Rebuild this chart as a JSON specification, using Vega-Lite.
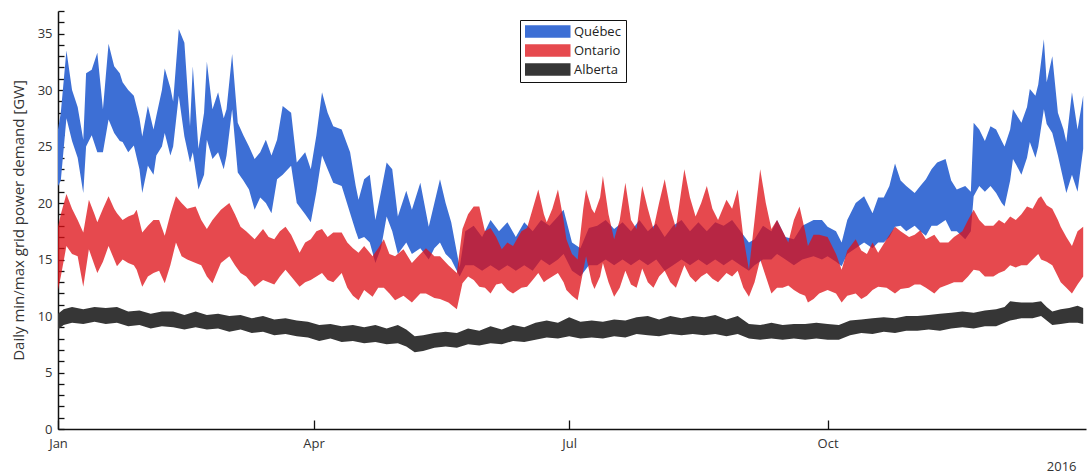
{
  "$schema": "https://vega.github.io/schema/vega-lite/v6.json",
  "width": 1028,
  "height": 418,
  "autosize": "none",
  "padding": {"left": 58, "top": 11, "right": 2, "bottom": 46},
  "background": "white",
  "config": {
    "view": {"stroke": null},
    "font": "Open Sans",
    "axis": {
      "grid": false,
      "domainColor": "#111111",
      "domainWidth": 1.5,
      "tickColor": "#111111",
      "tickWidth": 1.3,
      "labelFont": "Open Sans",
      "labelFontSize": 13,
      "labelColor": "#333333",
      "titleFont": "Open Sans",
      "titleFontSize": 15,
      "titleFontWeight": "normal",
      "titleColor": "#333333"
    }
  },
  "datasets": {
    "que": [
      {"d":"2016-01-01","lo":21.5,"hi":26.5},{"d":"2016-01-02","lo":22,"hi":28},{"d":"2016-01-04","lo":27.5,"hi":33.5},
      {"d":"2016-01-06","lo":25.5,"hi":30},{"d":"2016-01-08","lo":24,"hi":28.5},{"d":"2016-01-10","lo":20.9,"hi":25.6},
      {"d":"2016-01-11","lo":25,"hi":31.5},{"d":"2016-01-13","lo":26,"hi":31.8},{"d":"2016-01-15","lo":24.5,"hi":33.3},
      {"d":"2016-01-17","lo":24.5,"hi":28.3},{"d":"2016-01-19","lo":27.4,"hi":34.1},{"d":"2016-01-21","lo":26.2,"hi":32.1},
      {"d":"2016-01-23","lo":25.5,"hi":31.5},{"d":"2016-01-24","lo":25.4,"hi":30.7},{"d":"2016-01-26","lo":24.5,"hi":30},
      {"d":"2016-01-28","lo":25.1,"hi":29.5},{"d":"2016-01-30","lo":23,"hi":27.5},{"d":"2016-01-31","lo":20.9,"hi":25.9},
      {"d":"2016-02-02","lo":23.3,"hi":28.6},{"d":"2016-02-04","lo":22.5,"hi":26.5},{"d":"2016-02-05","lo":24.2,"hi":27.7},
      {"d":"2016-02-07","lo":25,"hi":30},{"d":"2016-02-08","lo":26.2,"hi":31.9},{"d":"2016-02-10","lo":24.2,"hi":30.2},
      {"d":"2016-02-11","lo":25,"hi":29},{"d":"2016-02-13","lo":29.5,"hi":35.4},{"d":"2016-02-15","lo":25.9,"hi":34.2},
      {"d":"2016-02-17","lo":23.6,"hi":26.8},{"d":"2016-02-18","lo":24.5,"hi":32.1},{"d":"2016-02-20","lo":21.2,"hi":24.8},
      {"d":"2016-02-22","lo":22.5,"hi":28},{"d":"2016-02-23","lo":25.6,"hi":32.5},{"d":"2016-02-25","lo":23.9,"hi":28.3},
      {"d":"2016-02-27","lo":24.5,"hi":29.8},{"d":"2016-02-29","lo":23,"hi":27.5},{"d":"2016-03-01","lo":24.2,"hi":28.3},
      {"d":"2016-03-03","lo":28.3,"hi":33.2},{"d":"2016-03-05","lo":22.7,"hi":27.1},{"d":"2016-03-07","lo":22,"hi":26},
      {"d":"2016-03-09","lo":21.2,"hi":25},{"d":"2016-03-11","lo":19.4,"hi":23.9},{"d":"2016-03-13","lo":20.5,"hi":24.5},
      {"d":"2016-03-15","lo":20,"hi":25.6},{"d":"2016-03-17","lo":19.1,"hi":24.2},{"d":"2016-03-19","lo":22.1,"hi":25.6},
      {"d":"2016-03-21","lo":22.5,"hi":28.6},{"d":"2016-03-24","lo":23.3,"hi":28},{"d":"2016-03-26","lo":20,"hi":23.6},
      {"d":"2016-03-29","lo":19,"hi":24.5},{"d":"2016-03-31","lo":18.3,"hi":23},{"d":"2016-04-02","lo":21,"hi":26},
      {"d":"2016-04-04","lo":24.2,"hi":29.8},{"d":"2016-04-06","lo":23,"hi":28},{"d":"2016-04-08","lo":21.8,"hi":26.8},
      {"d":"2016-04-11","lo":21.5,"hi":26.5},{"d":"2016-04-14","lo":19.1,"hi":24.5},{"d":"2016-04-16","lo":17.5,"hi":21.5},
      {"d":"2016-04-17","lo":16.8,"hi":20.3},{"d":"2016-04-19","lo":17,"hi":22.1},{"d":"2016-04-21","lo":16.5,"hi":22.5},
      {"d":"2016-04-23","lo":14.7,"hi":18.5},{"d":"2016-04-25","lo":16,"hi":21},{"d":"2016-04-27","lo":18.8,"hi":23.6},
      {"d":"2016-04-29","lo":17.5,"hi":23},{"d":"2016-05-01","lo":15.5,"hi":18.8},{"d":"2016-05-04","lo":16.5,"hi":21.1},
      {"d":"2016-05-06","lo":15.5,"hi":19.4},{"d":"2016-05-09","lo":16,"hi":21.8},{"d":"2016-05-12","lo":15,"hi":17.9},
      {"d":"2016-05-14","lo":16,"hi":20},{"d":"2016-05-16","lo":16.5,"hi":22.1},{"d":"2016-05-18","lo":15.5,"hi":20},
      {"d":"2016-05-20","lo":15,"hi":18.3},{"d":"2016-05-23","lo":13.5,"hi":14.3},{"d":"2016-05-25","lo":14.5,"hi":17.5},
      {"d":"2016-05-28","lo":14.5,"hi":18},{"d":"2016-05-31","lo":14,"hi":17},{"d":"2016-06-03","lo":14.5,"hi":18.5},
      {"d":"2016-06-06","lo":14,"hi":17.5},{"d":"2016-06-09","lo":14.5,"hi":18.3},{"d":"2016-06-12","lo":14,"hi":17},
      {"d":"2016-06-15","lo":14.5,"hi":18.3},{"d":"2016-06-18","lo":14,"hi":17.5},{"d":"2016-06-21","lo":15,"hi":18.5},
      {"d":"2016-06-24","lo":14.5,"hi":18},{"d":"2016-06-27","lo":15,"hi":18.8},{"d":"2016-06-29","lo":15.5,"hi":19.4},
      {"d":"2016-07-02","lo":14,"hi":16.5},{"d":"2016-07-05","lo":13.5,"hi":16},{"d":"2016-07-08","lo":14.5,"hi":17.8},
      {"d":"2016-07-11","lo":14.5,"hi":18},{"d":"2016-07-14","lo":15,"hi":18.5},{"d":"2016-07-17","lo":14.5,"hi":17.7},
      {"d":"2016-07-20","lo":15,"hi":18.3},{"d":"2016-07-23","lo":14.5,"hi":17.5},{"d":"2016-07-26","lo":15,"hi":18.5},
      {"d":"2016-07-29","lo":14.5,"hi":17.5},{"d":"2016-08-01","lo":15,"hi":18.2},{"d":"2016-08-04","lo":14,"hi":17},
      {"d":"2016-08-07","lo":14.5,"hi":18},{"d":"2016-08-10","lo":15,"hi":18.5},{"d":"2016-08-13","lo":14.5,"hi":17.5},
      {"d":"2016-08-16","lo":15,"hi":18.3},{"d":"2016-08-19","lo":14.5,"hi":17.5},{"d":"2016-08-22","lo":15,"hi":18.3},
      {"d":"2016-08-25","lo":14.5,"hi":18},{"d":"2016-08-28","lo":15,"hi":18.5},{"d":"2016-08-31","lo":14.5,"hi":17.5},
      {"d":"2016-09-03","lo":14,"hi":16.5},{"d":"2016-09-05","lo":14.5,"hi":16.8},{"d":"2016-09-08","lo":15,"hi":18},
      {"d":"2016-09-11","lo":15,"hi":17.5},{"d":"2016-09-13","lo":15.5,"hi":18.5},{"d":"2016-09-16","lo":15,"hi":17},
      {"d":"2016-09-19","lo":14.5,"hi":16.8},{"d":"2016-09-22","lo":15,"hi":18},{"d":"2016-09-26","lo":15.3,"hi":18.5},
      {"d":"2016-09-29","lo":15,"hi":18.5},{"d":"2016-10-01","lo":15.3,"hi":17.9},{"d":"2016-10-04","lo":14.8,"hi":17.5},
      {"d":"2016-10-06","lo":14.4,"hi":16.5},{"d":"2016-10-08","lo":15.5,"hi":18.5},{"d":"2016-10-11","lo":16,"hi":20},
      {"d":"2016-10-14","lo":16.5,"hi":20.6},{"d":"2016-10-17","lo":16,"hi":19.1},{"d":"2016-10-19","lo":16.5,"hi":20.5},
      {"d":"2016-10-21","lo":16.5,"hi":20.5},{"d":"2016-10-23","lo":17,"hi":21.5},{"d":"2016-10-25","lo":17.9,"hi":23.5},
      {"d":"2016-10-27","lo":18,"hi":22},{"d":"2016-10-29","lo":17.5,"hi":21.5},{"d":"2016-11-01","lo":18,"hi":20.9},
      {"d":"2016-11-03","lo":17.5,"hi":21.5},{"d":"2016-11-05","lo":17.1,"hi":22.1},{"d":"2016-11-07","lo":18,"hi":23},
      {"d":"2016-11-09","lo":18,"hi":23.6},{"d":"2016-11-12","lo":18.5,"hi":23.9},{"d":"2016-11-14","lo":17.5,"hi":22},
      {"d":"2016-11-16","lo":17.5,"hi":21.2},{"d":"2016-11-19","lo":16.8,"hi":21.5},{"d":"2016-11-21","lo":17.5,"hi":21},
      {"d":"2016-11-22","lo":20.6,"hi":27.1},{"d":"2016-11-24","lo":21.5,"hi":26.5},{"d":"2016-11-26","lo":21,"hi":25.5},
      {"d":"2016-11-28","lo":21.5,"hi":26.8},{"d":"2016-11-30","lo":20.9,"hi":26.5},{"d":"2016-12-02","lo":20,"hi":25.5},
      {"d":"2016-12-03","lo":19.7,"hi":25},{"d":"2016-12-05","lo":22,"hi":26.5},{"d":"2016-12-06","lo":23.9,"hi":28.3},
      {"d":"2016-12-08","lo":23,"hi":27.5},{"d":"2016-12-09","lo":22.5,"hi":27.1},{"d":"2016-12-11","lo":24,"hi":28.5},
      {"d":"2016-12-12","lo":25.4,"hi":30.1},{"d":"2016-12-14","lo":24,"hi":29.5},{"d":"2016-12-15","lo":25,"hi":30.5},
      {"d":"2016-12-17","lo":28.3,"hi":34.5},{"d":"2016-12-18","lo":27,"hi":30.7},{"d":"2016-12-20","lo":26.2,"hi":33},
      {"d":"2016-12-22","lo":24.2,"hi":28},{"d":"2016-12-24","lo":22,"hi":26.5},{"d":"2016-12-25","lo":20.9,"hi":25.4},
      {"d":"2016-12-27","lo":22.5,"hi":29.8},{"d":"2016-12-29","lo":21,"hi":26.5},{"d":"2016-12-31","lo":24.8,"hi":29.5}
    ],
    "ont": [
      {"d":"2016-01-01","lo":12.3,"hi":17.9},{"d":"2016-01-02","lo":13.5,"hi":19},{"d":"2016-01-04","lo":16.2,"hi":20.8},
      {"d":"2016-01-06","lo":15.5,"hi":19.5},{"d":"2016-01-08","lo":15.3,"hi":18.5},{"d":"2016-01-10","lo":12.6,"hi":17.4},
      {"d":"2016-01-12","lo":15.9,"hi":20.3},{"d":"2016-01-14","lo":14.5,"hi":19},{"d":"2016-01-15","lo":13.8,"hi":18.3},
      {"d":"2016-01-17","lo":14.8,"hi":19.5},{"d":"2016-01-19","lo":16.2,"hi":20.6},{"d":"2016-01-21","lo":15,"hi":19.5},
      {"d":"2016-01-22","lo":14.4,"hi":19.1},{"d":"2016-01-24","lo":15,"hi":18.5},{"d":"2016-01-26","lo":14.7,"hi":18.8},
      {"d":"2016-01-28","lo":14.5,"hi":19},{"d":"2016-01-29","lo":14.1,"hi":19.4},{"d":"2016-01-31","lo":12.6,"hi":17.4},
      {"d":"2016-02-02","lo":13.5,"hi":18},{"d":"2016-02-04","lo":13.8,"hi":18.5},{"d":"2016-02-06","lo":14,"hi":18.5},
      {"d":"2016-02-08","lo":12.9,"hi":17.1},{"d":"2016-02-10","lo":14.5,"hi":19},{"d":"2016-02-12","lo":16.5,"hi":20.6},
      {"d":"2016-02-14","lo":15.3,"hi":20},{"d":"2016-02-16","lo":15,"hi":19.5},{"d":"2016-02-19","lo":14.7,"hi":19.7},
      {"d":"2016-02-21","lo":14.5,"hi":18.5},{"d":"2016-02-23","lo":13.5,"hi":17.7},{"d":"2016-02-25","lo":12.9,"hi":18.5},
      {"d":"2016-02-28","lo":14.7,"hi":19.4},{"d":"2016-03-02","lo":15.3,"hi":20},{"d":"2016-03-04","lo":14.5,"hi":19},
      {"d":"2016-03-06","lo":13.8,"hi":17.9},{"d":"2016-03-08","lo":13.5,"hi":17.5},{"d":"2016-03-11","lo":12.6,"hi":16.8},
      {"d":"2016-03-14","lo":13.2,"hi":17.7},{"d":"2016-03-16","lo":13,"hi":17},{"d":"2016-03-18","lo":12.8,"hi":16.8},
      {"d":"2016-03-20","lo":13.5,"hi":17.5},{"d":"2016-03-22","lo":14.1,"hi":17.9},{"d":"2016-03-24","lo":13.5,"hi":17.2},
      {"d":"2016-03-27","lo":12.6,"hi":15.6},{"d":"2016-03-29","lo":13,"hi":16.5},{"d":"2016-03-31","lo":13.2,"hi":16.8},
      {"d":"2016-04-02","lo":13.5,"hi":17.5},{"d":"2016-04-04","lo":13.8,"hi":17.7},{"d":"2016-04-06","lo":13.2,"hi":17},
      {"d":"2016-04-08","lo":13,"hi":17.4},{"d":"2016-04-11","lo":13.8,"hi":17.4},{"d":"2016-04-13","lo":12.5,"hi":16.5},
      {"d":"2016-04-15","lo":11.8,"hi":16},{"d":"2016-04-17","lo":11.4,"hi":15.6},{"d":"2016-04-19","lo":12.3,"hi":16.2},
      {"d":"2016-04-22","lo":11.7,"hi":15.3},{"d":"2016-04-24","lo":12.5,"hi":16},{"d":"2016-04-26","lo":12.5,"hi":16.8},
      {"d":"2016-04-28","lo":12,"hi":15.5},{"d":"2016-04-30","lo":11.4,"hi":15.3},{"d":"2016-05-03","lo":11.8,"hi":15.9},
      {"d":"2016-05-06","lo":11.2,"hi":14.7},{"d":"2016-05-09","lo":12,"hi":15.5},{"d":"2016-05-11","lo":12,"hi":16},
      {"d":"2016-05-14","lo":11.6,"hi":15.3},{"d":"2016-05-16","lo":11.5,"hi":15.3},{"d":"2016-05-19","lo":11.2,"hi":14.5},
      {"d":"2016-05-22","lo":10.6,"hi":13.8},{"d":"2016-05-24","lo":12.9,"hi":17.7},{"d":"2016-05-26","lo":13.5,"hi":19},
      {"d":"2016-05-28","lo":13.2,"hi":19.7},{"d":"2016-05-30","lo":12.6,"hi":19.7},{"d":"2016-06-01","lo":12.5,"hi":17.5},
      {"d":"2016-06-03","lo":12,"hi":17.8},{"d":"2016-06-05","lo":12.8,"hi":17},{"d":"2016-06-07","lo":12.9,"hi":15.9},
      {"d":"2016-06-09","lo":12.3,"hi":16.5},{"d":"2016-06-11","lo":12,"hi":16.2},{"d":"2016-06-14","lo":12.5,"hi":17.5},
      {"d":"2016-06-16","lo":12.6,"hi":17.8},{"d":"2016-06-18","lo":13.2,"hi":19.5},{"d":"2016-06-20","lo":13.8,"hi":21.2},
      {"d":"2016-06-22","lo":13,"hi":19},{"d":"2016-06-23","lo":13.2,"hi":18.3},{"d":"2016-06-25","lo":13.5,"hi":19.5},
      {"d":"2016-06-27","lo":13.8,"hi":21.2},{"d":"2016-06-29","lo":13,"hi":18.5},{"d":"2016-06-30","lo":12.3,"hi":16.8},
      {"d":"2016-07-02","lo":11.8,"hi":15.5},{"d":"2016-07-04","lo":11.4,"hi":15},{"d":"2016-07-06","lo":14,"hi":19.5},
      {"d":"2016-07-07","lo":15.3,"hi":21.2},{"d":"2016-07-09","lo":13,"hi":19.5},{"d":"2016-07-10","lo":12.4,"hi":19.1},
      {"d":"2016-07-12","lo":13.5,"hi":20.5},{"d":"2016-07-13","lo":14.7,"hi":22.4},{"d":"2016-07-15","lo":13,"hi":19},
      {"d":"2016-07-17","lo":11.7,"hi":16.8},{"d":"2016-07-19","lo":12.5,"hi":18.5},{"d":"2016-07-21","lo":14,"hi":21.8},
      {"d":"2016-07-23","lo":12.8,"hi":18.5},{"d":"2016-07-25","lo":12.5,"hi":17.7},{"d":"2016-07-27","lo":14.2,"hi":21.5},
      {"d":"2016-07-29","lo":13,"hi":19.5},{"d":"2016-07-31","lo":12.5,"hi":17.7},{"d":"2016-08-02","lo":13.5,"hi":20},
      {"d":"2016-08-04","lo":14,"hi":22.1},{"d":"2016-08-06","lo":13,"hi":19.5},{"d":"2016-08-08","lo":12.5,"hi":17.8},
      {"d":"2016-08-11","lo":14.5,"hi":23},{"d":"2016-08-13","lo":13.5,"hi":20.5},{"d":"2016-08-15","lo":13,"hi":18.8},
      {"d":"2016-08-17","lo":13.5,"hi":20},{"d":"2016-08-19","lo":13.8,"hi":21.5},{"d":"2016-08-21","lo":13.3,"hi":19.5},
      {"d":"2016-08-23","lo":13,"hi":18.5},{"d":"2016-08-26","lo":13.8,"hi":20.3},{"d":"2016-08-28","lo":13.5,"hi":19.5},
      {"d":"2016-08-30","lo":14,"hi":21.2},{"d":"2016-09-01","lo":12.5,"hi":17},{"d":"2016-09-03","lo":11.7,"hi":14.1},
      {"d":"2016-09-05","lo":13,"hi":18.5},{"d":"2016-09-07","lo":15,"hi":23},{"d":"2016-09-09","lo":13.5,"hi":20},
      {"d":"2016-09-11","lo":12,"hi":17.7},{"d":"2016-09-13","lo":12.5,"hi":18.5},{"d":"2016-09-15","lo":12.5,"hi":17.5},
      {"d":"2016-09-17","lo":12.7,"hi":16.5},{"d":"2016-09-19","lo":12.3,"hi":18.5},{"d":"2016-09-21","lo":12,"hi":19.7},
      {"d":"2016-09-23","lo":11.8,"hi":17.5},{"d":"2016-09-24","lo":11.2,"hi":16.2},{"d":"2016-09-26","lo":11.5,"hi":17.2},
      {"d":"2016-09-28","lo":12,"hi":17.2},{"d":"2016-10-01","lo":12.3,"hi":17},{"d":"2016-10-04","lo":12,"hi":15.5},
      {"d":"2016-10-06","lo":11.2,"hi":14.1},{"d":"2016-10-08","lo":11.8,"hi":15.8},{"d":"2016-10-11","lo":12,"hi":16.8},
      {"d":"2016-10-13","lo":11.5,"hi":15.8},{"d":"2016-10-15","lo":11.8,"hi":15.5},{"d":"2016-10-17","lo":12.3,"hi":16.5},
      {"d":"2016-10-19","lo":12.6,"hi":15.6},{"d":"2016-10-22","lo":12.5,"hi":16.8},{"d":"2016-10-25","lo":12,"hi":17.9},
      {"d":"2016-10-27","lo":12.4,"hi":17.5},{"d":"2016-10-30","lo":12.5,"hi":17},{"d":"2016-11-01","lo":12.8,"hi":17.2},
      {"d":"2016-11-03","lo":12.8,"hi":17.6},{"d":"2016-11-05","lo":12.5,"hi":16.8},{"d":"2016-11-08","lo":12,"hi":17.2},
      {"d":"2016-11-10","lo":12.5,"hi":16.5},{"d":"2016-11-13","lo":12.8,"hi":16.5},{"d":"2016-11-15","lo":13,"hi":17},
      {"d":"2016-11-18","lo":13,"hi":17.5},{"d":"2016-11-20","lo":13.5,"hi":18.5},{"d":"2016-11-22","lo":14.1,"hi":19.4},
      {"d":"2016-11-24","lo":14,"hi":18.5},{"d":"2016-11-26","lo":13.5,"hi":18},{"d":"2016-11-29","lo":13.5,"hi":18},
      {"d":"2016-12-01","lo":13.8,"hi":18.5},{"d":"2016-12-03","lo":14,"hi":18.2},{"d":"2016-12-05","lo":14.5,"hi":18.8},
      {"d":"2016-12-07","lo":14.3,"hi":18.5},{"d":"2016-12-09","lo":14.5,"hi":19},{"d":"2016-12-11","lo":14.5,"hi":19.7},
      {"d":"2016-12-13","lo":15,"hi":19.5},{"d":"2016-12-15","lo":15.5,"hi":20.4},{"d":"2016-12-16","lo":15,"hi":20.6},
      {"d":"2016-12-18","lo":14.8,"hi":19.8},{"d":"2016-12-20","lo":14.5,"hi":19.5},{"d":"2016-12-22","lo":13.5,"hi":18.5},
      {"d":"2016-12-23","lo":13,"hi":17.9},{"d":"2016-12-25","lo":12.5,"hi":17},{"d":"2016-12-27","lo":12,"hi":16.2},
      {"d":"2016-12-29","lo":12.8,"hi":17.5},{"d":"2016-12-31","lo":13.5,"hi":17.9}
    ],
    "alb": [
      {"d":"2016-01-01","lo":8.8,"hi":10.2},{"d":"2016-01-03","lo":9.2,"hi":10.6},{"d":"2016-01-06","lo":9.4,"hi":10.8},
      {"d":"2016-01-10","lo":9.3,"hi":10.6},{"d":"2016-01-14","lo":9.5,"hi":10.8},{"d":"2016-01-18","lo":9.3,"hi":10.7},
      {"d":"2016-01-22","lo":9.4,"hi":10.8},{"d":"2016-01-26","lo":9.1,"hi":10.4},{"d":"2016-01-30","lo":9.2,"hi":10.5},
      {"d":"2016-02-03","lo":8.9,"hi":10.2},{"d":"2016-02-07","lo":9.1,"hi":10.4},{"d":"2016-02-11","lo":9,"hi":10.4},
      {"d":"2016-02-15","lo":8.8,"hi":10.1},{"d":"2016-02-19","lo":9,"hi":10.4},{"d":"2016-02-23","lo":8.8,"hi":10.1},
      {"d":"2016-02-27","lo":8.9,"hi":10.2},{"d":"2016-03-02","lo":8.6,"hi":10},{"d":"2016-03-06","lo":8.8,"hi":10.1},
      {"d":"2016-03-10","lo":8.5,"hi":9.8},{"d":"2016-03-14","lo":8.6,"hi":10},{"d":"2016-03-18","lo":8.3,"hi":9.7},
      {"d":"2016-03-22","lo":8.4,"hi":9.8},{"d":"2016-03-26","lo":8.2,"hi":9.6},{"d":"2016-03-30","lo":8.1,"hi":9.5},
      {"d":"2016-04-03","lo":7.8,"hi":9.2},{"d":"2016-04-07","lo":8,"hi":9.3},{"d":"2016-04-11","lo":7.7,"hi":9.1},
      {"d":"2016-04-15","lo":7.8,"hi":9.2},{"d":"2016-04-19","lo":7.6,"hi":9},{"d":"2016-04-23","lo":7.7,"hi":9.2},
      {"d":"2016-04-27","lo":7.5,"hi":8.9},{"d":"2016-05-01","lo":7.6,"hi":9.2},{"d":"2016-05-04","lo":7.3,"hi":8.8},
      {"d":"2016-05-07","lo":6.8,"hi":8.2},{"d":"2016-05-10","lo":6.9,"hi":8.3},{"d":"2016-05-14","lo":7.2,"hi":8.5},
      {"d":"2016-05-18","lo":7.3,"hi":8.6},{"d":"2016-05-22","lo":7.2,"hi":8.5},{"d":"2016-05-26","lo":7.5,"hi":8.9},
      {"d":"2016-05-30","lo":7.4,"hi":8.7},{"d":"2016-06-03","lo":7.6,"hi":9.1},{"d":"2016-06-07","lo":7.5,"hi":8.8},
      {"d":"2016-06-11","lo":7.8,"hi":9.2},{"d":"2016-06-15","lo":7.7,"hi":9},{"d":"2016-06-19","lo":7.9,"hi":9.4},
      {"d":"2016-06-23","lo":8.1,"hi":9.6},{"d":"2016-06-27","lo":8,"hi":9.4},{"d":"2016-07-01","lo":8.2,"hi":9.9},
      {"d":"2016-07-05","lo":8,"hi":9.5},{"d":"2016-07-09","lo":8.1,"hi":9.6},{"d":"2016-07-13","lo":8,"hi":9.5},
      {"d":"2016-07-17","lo":8.2,"hi":9.7},{"d":"2016-07-21","lo":8.1,"hi":9.6},{"d":"2016-07-25","lo":8.4,"hi":9.9},
      {"d":"2016-07-29","lo":8.3,"hi":10},{"d":"2016-08-02","lo":8.2,"hi":9.7},{"d":"2016-08-06","lo":8.4,"hi":10},
      {"d":"2016-08-10","lo":8.3,"hi":9.8},{"d":"2016-08-14","lo":8.4,"hi":10},{"d":"2016-08-18","lo":8.3,"hi":9.9},
      {"d":"2016-08-22","lo":8.4,"hi":10.1},{"d":"2016-08-26","lo":8.2,"hi":9.7},{"d":"2016-08-30","lo":8.4,"hi":10},
      {"d":"2016-09-03","lo":8,"hi":9.3},{"d":"2016-09-07","lo":7.9,"hi":9.2},{"d":"2016-09-11","lo":8,"hi":9.4},
      {"d":"2016-09-15","lo":7.9,"hi":9.2},{"d":"2016-09-19","lo":8,"hi":9.3},{"d":"2016-09-23","lo":7.9,"hi":9.3},
      {"d":"2016-09-27","lo":8,"hi":9.4},{"d":"2016-10-01","lo":7.9,"hi":9.3},{"d":"2016-10-05","lo":7.9,"hi":9.2},
      {"d":"2016-10-09","lo":8.3,"hi":9.6},{"d":"2016-10-13","lo":8.5,"hi":9.7},{"d":"2016-10-17","lo":8.4,"hi":9.8},
      {"d":"2016-10-21","lo":8.6,"hi":9.9},{"d":"2016-10-25","lo":8.5,"hi":9.8},{"d":"2016-10-29","lo":8.7,"hi":10},
      {"d":"2016-11-02","lo":8.7,"hi":10},{"d":"2016-11-06","lo":8.8,"hi":10.1},{"d":"2016-11-10","lo":8.7,"hi":10.2},
      {"d":"2016-11-14","lo":8.9,"hi":10.3},{"d":"2016-11-18","lo":9,"hi":10.4},{"d":"2016-11-22","lo":8.9,"hi":10.3},
      {"d":"2016-11-26","lo":9.1,"hi":10.5},{"d":"2016-11-30","lo":9.1,"hi":10.6},{"d":"2016-12-03","lo":9.4,"hi":10.8},
      {"d":"2016-12-05","lo":9.6,"hi":11.3},{"d":"2016-12-09","lo":9.8,"hi":11.2},{"d":"2016-12-13","lo":9.8,"hi":11.2},
      {"d":"2016-12-16","lo":10,"hi":11.3},{"d":"2016-12-18","lo":9.6,"hi":10.8},{"d":"2016-12-20","lo":9.2,"hi":10.4},
      {"d":"2016-12-23","lo":9.3,"hi":10.6},{"d":"2016-12-26","lo":9.4,"hi":10.7},{"d":"2016-12-29","lo":9.4,"hi":10.9},
      {"d":"2016-12-31","lo":9.3,"hi":10.7}
    ]
  },
  "encoding": {
    "x": {
      "field": "d",
      "type": "temporal",
      "scale": {
        "type": "utc",
        "domain": [
          {"year": 2016, "month": 1, "date": 1, "utc": true},
          {"year": 2017, "month": 1, "date": 1, "utc": true}
        ]
      },
      "axis": {
        "title": "2016",
        "titleX": 1018,
        "titleY": 37,
        "titleAlign": "right",
        "titleBaseline": "middle",
        "titleFontSize": 13,
        "values": [
          {"year": 2016, "month": 1, "date": 1, "utc": true},
          {"year": 2016, "month": 4, "date": 1, "utc": true},
          {"year": 2016, "month": 7, "date": 1, "utc": true},
          {"year": 2016, "month": 10, "date": 1, "utc": true}
        ],
        "format": "%b",
        "labelFlush": false,
        "labelPadding": 17,
        "tickSize": -9
      }
    },
    "y": {
      "field": "hi",
      "type": "quantitative",
      "scale": {"domain": [0, 37], "nice": false},
      "axis": {
        "title": "Daily min/max grid power demand [GW]",
        "titleX": -40,
        "titleY": 209,
        "titleAngle": -90,
        "titleAlign": "center",
        "titleBaseline": "middle",
        "values": [0,1,2,3,4,5,6,7,8,9,10,11,12,13,14,15,16,17,18,19,20,21,22,23,24,25,26,27,28,29,30,31,32,33,34,35,36,37],
        "labelExpr": "datum.value % 5 === 0 ? datum.label : ''",
        "labelOverlap": false,
        "labelPadding": 12,
        "tickSize": -6,
        "encode": {"ticks": {"update": {"x2": {"signal": "datum.value % 5 === 0 ? 10 : 6"}}}}
      }
    },
    "y2": {"field": "lo"}
  },
  "layer": [
    {
      "data": {"name": "que"},
      "mark": {"type": "area"},
      "encoding": {
        "color": {
          "datum": "Québec",
          "type": "nominal",
          "scale": {
            "domain": ["Québec", "Ontario", "Alberta"],
            "range": ["#3d6fd5", "rgba(222,16,22,0.76)", "#363636"]
          },
          "legend": {
            "title": null,
            "orient": "none",
            "legendX": 462,
            "legendY": 9,
            "padding": 5,
            "strokeColor": "#111111",
            "fillColor": "white",
            "symbolType": "M-1,-0.95H6V0.95H-1Z",
            "symbolSize": 169,
            "symbolStrokeWidth": 0,
            "labelFont": "Open Sans",
            "labelFontSize": 13,
            "labelColor": "#222222",
            "labelOffset": 36,
            "rowPadding": 5
          }
        }
      }
    },
    {
      "data": {"name": "ont"},
      "mark": {"type": "area"},
      "encoding": {"color": {"datum": "Ontario", "type": "nominal"}}
    },
    {
      "data": {"name": "alb"},
      "mark": {"type": "area"},
      "encoding": {"color": {"datum": "Alberta", "type": "nominal"}}
    }
  ]
}
